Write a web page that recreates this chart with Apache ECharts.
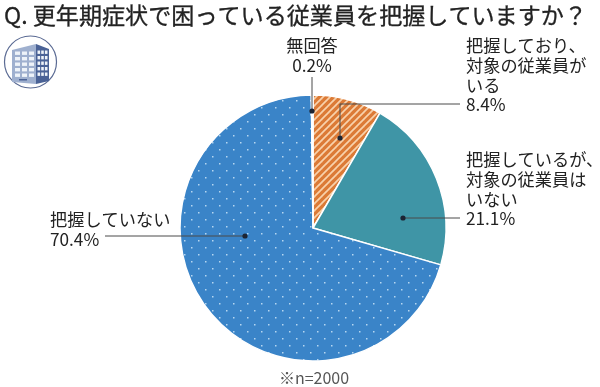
<!DOCTYPE html>
<html><head><meta charset="utf-8">
<style>html,body{margin:0;padding:0;background:#fff}#c{width:600px;height:387px}</style>
<script src="https://cdn.jsdelivr.net/npm/echarts@6/dist/echarts.min.js"></script>
</head><body><div id="c"></div>
<script>
const titleText = 'Q. 更年期症状で困っている従業員を把握していますか？';
const noteText = '※n=2000';
const categories = ['把握しており、\n対象の従業員が\nいる','把握しているが、\n対象の従業員は\nいない','把握していない','無回答'];
const values = [8.4,21.1,70.4,0.2];
const FONT = '"Noto Sans CJK JP","Noto Sans",sans-serif';

function stripes(){
  const c=document.createElement('canvas');c.width=c.height=7;const g=c.getContext('2d');
  g.fillStyle='#dc7a36';g.fillRect(0,0,7,7);
  g.strokeStyle='#f8d2ac';g.lineWidth=1.7;
  [[-7,7,7,-7],[0,7,7,0],[0,14,14,0]].forEach(a=>{g.beginPath();g.moveTo(a[0],a[1]);g.lineTo(a[2],a[3]);g.stroke();});
  return c;
}
function dots(){
  const c=document.createElement('canvas');c.width=c.height=14;const g=c.getContext('2d');
  g.fillStyle='#3a84c8';g.fillRect(0,0,14,14);
  g.fillStyle='#b5d6f0';g.fillRect(2,2,1.5,1.5);g.fillRect(9,9,1.5,1.5);
  return c;
}
const sliceColors=[{image:stripes(),repeat:'repeat'},'#3f95a6',{image:dots(),repeat:'repeat'},'#ffffff'];
const labelPos=[
 {x:466,y:36,align:'left',verticalAlign:'top'},
 {x:466,y:150,align:'left',verticalAlign:'top'},
 {x:50,y:210,align:'left',verticalAlign:'top'},
 {x:312,y:36,align:'center',verticalAlign:'top'}
];
const leaders=[
 [[460,104],[340,104],[340,138]],
 [[460,218],[403,218]],
 [[105,236],[245,236]],
 [[312,77],[312,111]]
];
const graphic=[];
leaders.forEach(p=>{
  graphic.push({type:'polyline',z:50,shape:{points:p},style:{stroke:'#4a4a4a',lineWidth:1,fill:null}});
  const e=p[p.length-1];
  graphic.push({type:'circle',z:51,shape:{cx:e[0],cy:e[1],r:2.6},style:{fill:'#1c2433'}});
});
// building icon
const ic=[
 {type:'circle',shape:{cx:30.5,cy:62,r:26},style:{fill:'#fff',stroke:'#5a6a93',lineWidth:1.2}},
 {type:'polygon',shape:{points:[[12,50],[36,44],[36,84],[12,82]]},style:{fill:'#9fb0cf'}},
 {type:'polygon',shape:{points:[[36,44],[49,49],[49,81],[36,84]]},style:{fill:'#4a6296'}},
 {type:'rect',shape:{x:19,y:79,width:8,height:1.5},style:{fill:'#4a6296'}}
];
for(let r=0;r<5;r++){for(let k=0;k<3;k++){ic.push({type:'rect',shape:{x:15+k*7,y:51.5+r*5.5,width:5,height:3.4},style:{fill:'#eef3f9'}});}
 for(let k=0;k<3;k++){ic.push({type:'rect',shape:{x:37.5+k*3.7,y:50.5+r*5.5,width:2.6,height:3.4},style:{fill:'#eef3f9'}});}}
ic.forEach(o=>{o.z=10;graphic.push(o);});
graphic.push({type:'text',x:4,y:15,z:60,style:{text:titleText,font:'23.1px '+FONT,fill:'#222',verticalAlign:'middle',stroke:'#222',lineWidth:0.3}});
graphic.push({type:'text',x:314,y:378,z:60,style:{text:noteText,font:'16px '+FONT,fill:'#555',align:'center',verticalAlign:'middle'}});

const chart=echarts.init(document.getElementById('c'),null,{renderer:'canvas'});
chart.setOption({
 animation:false,
 graphic,
 series:[{
  type:'pie',center:[313,228],radius:[0,133],startAngle:90,clockwise:true,
  minAngle:0,avoidLabelOverlap:false,silent:true,
  itemStyle:{borderColor:'#fff',borderWidth:1.5},
  data:categories.map((n,i)=>({name:n,value:values[i],itemStyle:{color:sliceColors[i]}})),
  label:{show:true,formatter:p=>p.name+'\n'+p.value.toFixed(1)+'%',fontFamily:FONT,fontSize:17.2,lineHeight:19.6,color:'#222'},
  labelLine:{show:false},
  labelLayout:p=>labelPos[p.dataIndex]
 }]
});
</script></body></html>
